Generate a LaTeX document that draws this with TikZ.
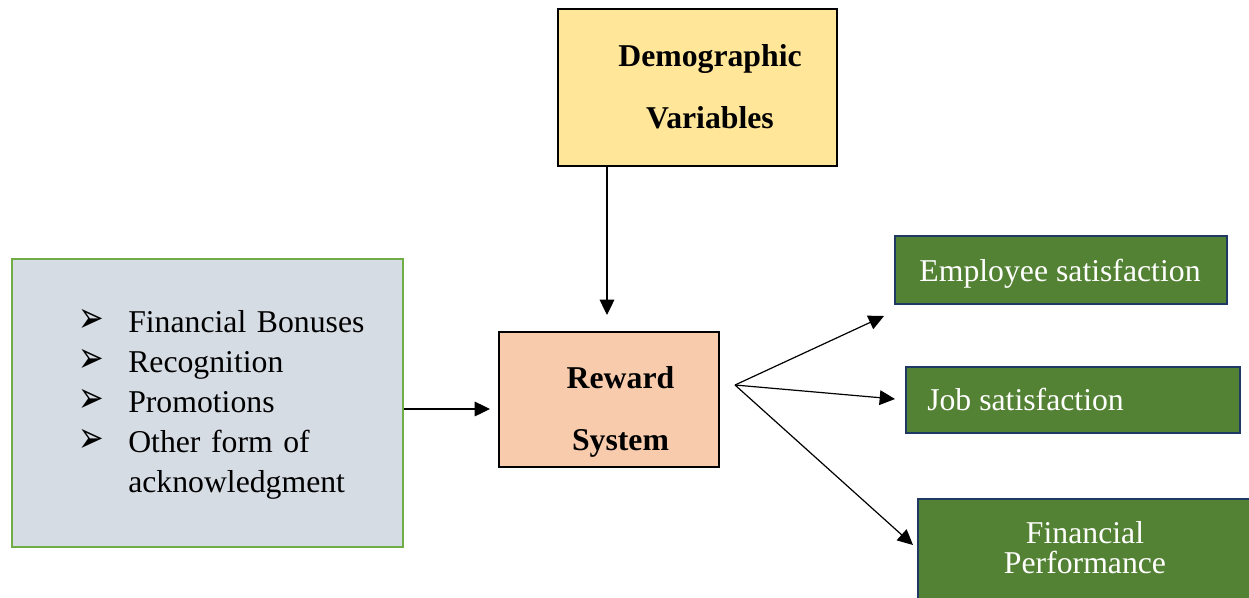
\documentclass[tikz,border=0pt]{standalone}
\usepackage{graphicx}
\usepackage{fontspec}
\setmainfont{Liberation Serif}
\newfontfamily\symfont{DejaVu Sans}
\usetikzlibrary{arrows.meta}
\definecolor{demofill}{HTML}{FFE699}
\definecolor{rewardfill}{HTML}{F8CBAD}
\definecolor{listfill}{HTML}{D6DCE4}
\definecolor{listedge}{HTML}{70AD47}
\definecolor{outfill}{HTML}{548235}
\definecolor{outedge}{HTML}{1F3864}
\tikzset{
  box/.style={draw, line width=1.8pt, inner sep=0pt},
  txt/.style={font=\fontsize{23.8}{30}\selectfont, inner sep=0pt},
  boldtxt/.style={font=\fontsize{23.8}{46.5}\selectfont\bfseries, align=center, inner sep=0pt},
  outbox/.style={box, draw=outedge, fill=outfill},
  outtxt/.style={txt, text=white},
  arr/.style={line width=0.9pt, -{Triangle[length=11.5pt,width=11pt]}},
}
% list bullet: three-d arrowhead, narrowed a little and kept out of the line spacing
\newcommand{\bul}{\makebox[33.75pt][l]{\hspace*{-3.5pt}\smash{\scalebox{0.74}[1.05]{\fontsize{31}{31}\selectfont\symfont ➢}}}}
\begin{document}
\begin{tikzpicture}[x=0.75pt,y=-0.75pt]
\useasboundingbox (0,0) rectangle (1249,597);
\clip (0,0) rectangle (1249,597);

% demographic variables
\node[box, fill=demofill, minimum width=209.25pt, minimum height=117.75pt] (demo) at (697.5,87.5) {};
\node[boldtxt] (demotxt) at (710,86.5) {Demographic\\Variables};

% reward system
\node[box, fill=rewardfill, minimum width=165pt, minimum height=101.25pt] (reward) at (609,399.5) {};
\node[boldtxt] (rewardtxt) at (620.5,412) {Reward\\System};

% list of reward forms
\node[box, draw=listedge, fill=listfill, minimum width=293.25pt, minimum height=216pt] (left) at (207.5,403) {};
\node[txt, text width=230pt, align=left, anchor=base west] (listtxt) at (83,332.7)
  {\bul Financial Bonuses\\
   \bul Recognition\\
   \bul Promotions\\
   \bul Other form of\\
   \hspace*{33.75pt}acknowledgment};

% outcomes
\node[outbox, minimum width=249pt, minimum height=51pt] (emp) at (1061,270) {};
\node[outtxt, anchor=base] (emptxt) at (1060,281) {Employee satisfaction};

\node[outbox, minimum width=250.5pt, minimum height=49.5pt] (job) at (1073,400) {};
\node[outtxt, anchor=base west] (jobtxt) at (927,410) {Job satisfaction};

\node[outbox, minimum width=255pt, minimum height=90.75pt] (fin) at (1088,559.5) {};
\node[outtxt, text width=240pt, align=center, anchor=base] (fintxt) at (1085,543)
  {Financial\\[-7.5pt]Performance};

% connectors
\coordinate (dtip) at (607,315);
\draw[arr] (dtip |- demo.south) -- (dtip);
\coordinate (ltip) at (490,409);
\draw[arr] (left.east |- ltip) -- (ltip);

\coordinate (hub) at (735,385);
\coordinate (t1) at (884,316);
\coordinate (t2) at (895,399);
\coordinate (t3) at (913,545);
\draw[arr] (hub) -- (t1);
\draw[arr] (hub) -- (t2);
\draw[arr] (hub) -- (t3);
\end{tikzpicture}
\end{document}
